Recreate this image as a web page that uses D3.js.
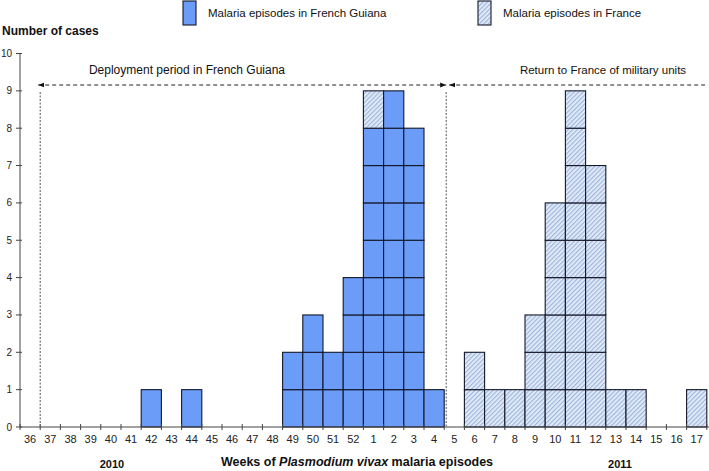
<!DOCTYPE html>
<html><head><meta charset="utf-8">
<script src="https://cdn.jsdelivr.net/npm/d3@7"></script>
<style>body{margin:0;background:#fff}svg{display:block;font-family:"Liberation Sans",Arial,sans-serif}</style>
</head><body>
<svg id="c" width="709" height="471"></svg>
<script>
const weeks = ["36","37","38","39","40","41","42","43","44","45","46","47","48","49","50","51","52","1","2","3","4","5","6","7","8","9","10","11","12","13","14","15","16","17"];
const guiana = [0,0,0,0,0,0,1,0,1,0,0,0,0,2,3,2,4,8,9,8,1,0,0,0,0,0,0,0,0,0,0,0,0,0];
const france = [0,0,0,0,0,0,0,0,0,0,0,0,0,0,0,0,0,1,0,0,0,0,2,1,1,3,6,9,7,1,1,0,0,1];
const yTicks = [0,1,2,3,4,5,6,7,8,9,10];

const svg = d3.select("#c");
const x = d3.scaleBand().domain(weeks).range([20, 706.8]).padding(0);
const y = d3.scaleLinear().domain([0,10]).range([427, 53.5]);
const blue = "#6a9cf8";
const axisCol = "#444";

const defs = svg.append("defs");
const pat = defs.append("pattern").attr("id","hatch").attr("patternUnits","userSpaceOnUse")
  .attr("width",3.2).attr("height",3.2).attr("patternTransform","rotate(45)");
pat.append("rect").attr("width",3.2).attr("height",3.2).attr("fill","#dfe9f8");
pat.append("line").attr("x1",0.6).attr("y1",0).attr("x2",0.6).attr("y2",3.2).attr("stroke","#8fa9d4").attr("stroke-width",0.9);

// cells
const cells = [];
weeks.forEach((w,i)=>{
  for(let k=0;k<guiana[i];k++) cells.push({w, lo:k, t:"g"});
  for(let k=0;k<france[i];k++) cells.push({w, lo:guiana[i]+k, t:"f"});
});
svg.append("g").selectAll("rect").data(cells).join("rect")
  .attr("x", d=>x(d.w)).attr("width", x.bandwidth())
  .attr("y", d=>y(d.lo+1)).attr("height", d=>y(d.lo)-y(d.lo+1))
  .attr("fill", d=>d.t==="g"?blue:"url(#hatch)")
  .attr("stroke","#14182a").attr("stroke-width",1.1);

// y axis
svg.append("line").attr("x1",20).attr("x2",20).attr("y1",y(10)).attr("y2",y(0)).attr("stroke",axisCol).attr("stroke-width",1);
const yg = svg.append("g");
yg.selectAll("line").data(yTicks).join("line").attr("x1",16).attr("x2",22).attr("y1",d=>y(d)).attr("y2",d=>y(d)).attr("stroke",axisCol);
yg.selectAll("text").data(yTicks).join("text").attr("x",12).attr("y",d=>y(d)+3.5).attr("text-anchor","end")
  .attr("font-size",10).attr("fill","#222").text(d=>d);

// x axis
svg.append("line").attr("x1",20).attr("x2",709).attr("y1",y(0)).attr("y2",y(0)).attr("stroke",axisCol);
const bounds = weeks.map(w=>x(w)).concat([x(weeks[weeks.length-1])+x.bandwidth()]);
svg.append("g").selectAll("line").data(bounds).join("line")
  .attr("x1",d=>d).attr("x2",d=>d).attr("y1",y(0)-3).attr("y2",y(0)+3).attr("stroke",axisCol);
svg.append("g").selectAll("text").data(weeks).join("text")
  .attr("x",d=>x(d)+x.bandwidth()/2).attr("y",443).attr("text-anchor","middle")
  .attr("font-size",11).attr("fill","#222").text(d=>d);

// dashed verticals
const v1 = x("37"), v2 = x("5")+2;
[v1,v2].forEach(v=>svg.append("line").attr("x1",v).attr("x2",v).attr("y1",92).attr("y2",y(0))
  .attr("stroke","#555").attr("stroke-width",1).attr("stroke-dasharray","2,1.5"));

// arrows
defs.append("marker").attr("id","ah").attr("viewBox","0 0 10 10").attr("refX",10).attr("refY",5)
  .attr("markerWidth",6).attr("markerHeight",6).attr("orient","auto-start-reverse").attr("markerUnits","userSpaceOnUse")
  .append("path").attr("d","M0,1 L10,5 L0,9 Z").attr("fill","#111");
svg.append("line").attr("x1",v1-2).attr("x2",v2).attr("y1",85).attr("y2",85)
  .attr("stroke","#222").attr("stroke-dasharray","4,3").attr("marker-start","url(#ah)").attr("marker-end","url(#ah)");
svg.append("line").attr("x1",v2+3).attr("x2",705).attr("y1",85).attr("y2",85)
  .attr("stroke","#222").attr("stroke-dasharray","4,3").attr("marker-start","url(#ah)");

// annotations
svg.append("text").attr("x",187).attr("y",74).attr("text-anchor","middle").attr("font-size",12).attr("fill","#111").text("Deployment period in French Guiana");
svg.append("text").attr("x",603).attr("y",74).attr("text-anchor","middle").attr("font-size",11.5).attr("fill","#111").text("Return to France of military units");

// titles
svg.append("text").attr("x",2).attr("y",35).attr("font-size",12).attr("font-weight","bold").attr("fill","#111").text("Number of cases");
const xt = svg.append("text").attr("x",357).attr("y",466).attr("text-anchor","middle").attr("font-size",12.5).attr("font-weight","bold").attr("fill","#111");
xt.append("tspan").text("Weeks of ");
xt.append("tspan").attr("font-style","italic").text("Plasmodium vivax");
xt.append("tspan").text(" malaria episodes");
svg.append("text").attr("x",112).attr("y",468).attr("text-anchor","middle").attr("font-size",11).attr("font-weight","bold").attr("fill","#111").text("2010");
svg.append("text").attr("x",620).attr("y",468).attr("text-anchor","middle").attr("font-size",11).attr("font-weight","bold").attr("fill","#111").text("2011");

// legend
const leg = [{label:"Malaria episodes in French Guiana", fill:blue, x:183},{label:"Malaria episodes in France", fill:"url(#hatch)", x:478}];
const lg = svg.append("g").selectAll("g").data(leg).join("g");
lg.append("rect").attr("x",d=>d.x).attr("y",1).attr("width",13).attr("height",24).attr("fill",d=>d.fill).attr("stroke","#14182a").attr("stroke-width",1.1);
lg.append("text").attr("x",d=>d.x+25).attr("y",17).attr("font-size",11.5).attr("fill","#111").text(d=>d.label);
</script>
</body></html>
